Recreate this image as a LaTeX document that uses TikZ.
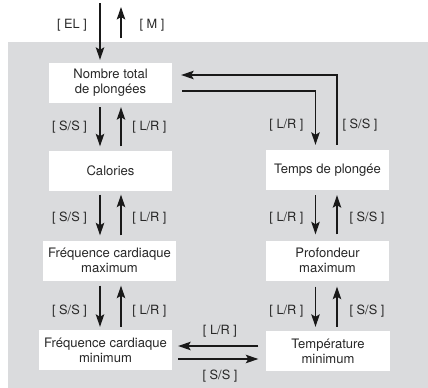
\documentclass[tikz,border=0pt]{standalone}
\usepackage{fontspec}
\setmainfont{TeX Gyre Heros}
\usetikzlibrary{arrows.meta,calc}
\definecolor{bggray}{RGB}{218,219,221}
\definecolor{txtgray}{RGB}{40,40,40}
\definecolor{linecol}{RGB}{25,25,25}
\begin{document}
\begin{tikzpicture}[x=1bp,y=-1bp,
  box/.style={fill=white,draw=none,minimum height=40bp,inner sep=0pt,align=center,
    font=\fontsize{13.1}{14.8}\selectfont,text=txtgray},
  lbl/.style={font=\fontsize{12.8}{14}\selectfont,text=txtgray,inner sep=0pt},
  arr/.style={draw=linecol,line width=1.25bp,-{Stealth[length=12.5bp,width=8.5bp,inset=2.5bp]}},
  plain/.style={draw=linecol,line width=1.25bp}]
\useasboundingbox (0,0) rectangle (428,388);
\fill[bggray] (8,42) rectangle (428,388);
% boxes
\node[box,minimum width=123bp] (nombre) at (110.5,83) {Nombre total\\de plongées};
\node[box,minimum width=123bp] (calories) at (110.5,170.5) {Calories};
\node[box,minimum width=123bp] (temps) at (327.5,170) {Temps de plongée};
\node[box,minimum width=133bp] (frmax) at (109.5,260.5) {Fréquence cardiaque\\maximum};
\node[box,minimum width=123bp] (prof) at (327.5,260.5) {Profondeur\\maximum};
\node[box,minimum width=133bp] (frmin) at (105.5,350) {Fréquence cardiaque\\minimum};
\node[box,minimum width=123bp] (temp) at (328,351) {Température\\minimum};
% column coordinates
\coordinate (L1) at (100,0);
\coordinate (L2) at (121,0);
\coordinate (R1) at (315.5,0);
\coordinate (R2) at (337,0);
\coordinate (H1) at (0,346);
\coordinate (H2) at (0,359);
\coordinate (T1) at (0,75);
\coordinate (T2) at (0,91);
% top arrows
\coordinate (inStart) at (100,3);
\coordinate (outStart) at (121,38);
\coordinate (outEnd) at (121,7);
\draw[arr,shorten >=3bp] (inStart) -- (nombre.north -| inStart);
\draw[arr] (outStart) -- (outEnd);
\node[lbl] (lEL) at (72,25) {[ EL ]};
\node[lbl] (lM) at (152,25) {[ M ]};
% left column
\draw[arr,shorten <=4bp,shorten >=4bp] (nombre.south -| L1) -- (calories.north -| L1);
\draw[arr,shorten <=4bp,shorten >=4bp] (calories.north -| L2) -- (nombre.south -| L2);
\node[lbl] (l1) at (69.5,127) {[ S/S ]};
\node[lbl] (l2) at (149.5,127) {[ L/R ]};
\draw[arr,shorten <=4bp,shorten >=5bp] (calories.south -| L1) -- (frmax.north -| L1);
\draw[arr,shorten <=5bp,shorten >=4bp] (frmax.north -| L2) -- (calories.south -| L2);
\node[lbl] (l3) at (69.5,218) {[ S/S ]};
\node[lbl] (l4) at (149.5,218) {[ L/R ]};
\draw[arr,shorten <=5bp,shorten >=3bp] (frmax.south -| L1) -- (frmin.north -| L1);
\draw[arr,shorten <=3bp,shorten >=5bp] (frmin.north -| L2) -- (frmax.south -| L2);
\node[lbl] (l5) at (69.5,311) {[ S/S ]};
\node[lbl] (l6) at (149.5,311) {[ L/R ]};
% loop between nombre and temps
\draw[arr,shorten <=5bp,shorten >=9bp] (temps.north -| R2) -- (R2 |- T1) -- (nombre.east |- T1);
\draw[arr,shorten <=10bp,shorten >=5bp] (nombre.east |- T2) -- (R1 |- T2) -- (temps.north -| R1);
\node[lbl] (l7) at (286.5,125) {[ L/R ]};
\node[lbl] (l8) at (360,125) {[ S/S ]};
% right column
\draw[arr,shorten <=5bp,shorten >=6bp] (temps.south -| R1) -- (prof.north -| R1);
\draw[arr,shorten <=6bp,shorten >=5bp] (prof.north -| R2) -- (temps.south -| R2);
\node[lbl] (l9) at (286.5,218) {[ L/R ]};
\node[lbl] (l10) at (367,218) {[ S/S ]};
\draw[arr,shorten <=6bp,shorten >=4bp] (prof.south -| R1) -- (temp.north -| R1);
\draw[arr,shorten <=4bp,shorten >=6bp] (temp.north -| R2) -- (prof.south -| R2);
\node[lbl] (l11) at (286.5,311) {[ L/R ]};
\node[lbl] (l12) at (367,311) {[ S/S ]};
% bottom horizontal
\draw[arr,shorten <=8bp,shorten >=6bp] (temp.west |- H1) -- (frmin.east |- H1);
\draw[arr,shorten <=6bp,shorten >=8bp] (frmin.east |- H2) -- (temp.west |- H2);
\node[lbl] (l13) at (220,331) {[ L/R ]};
\node[lbl] (l14) at (220,376) {[ S/S ]};
\end{tikzpicture}
\end{document}
